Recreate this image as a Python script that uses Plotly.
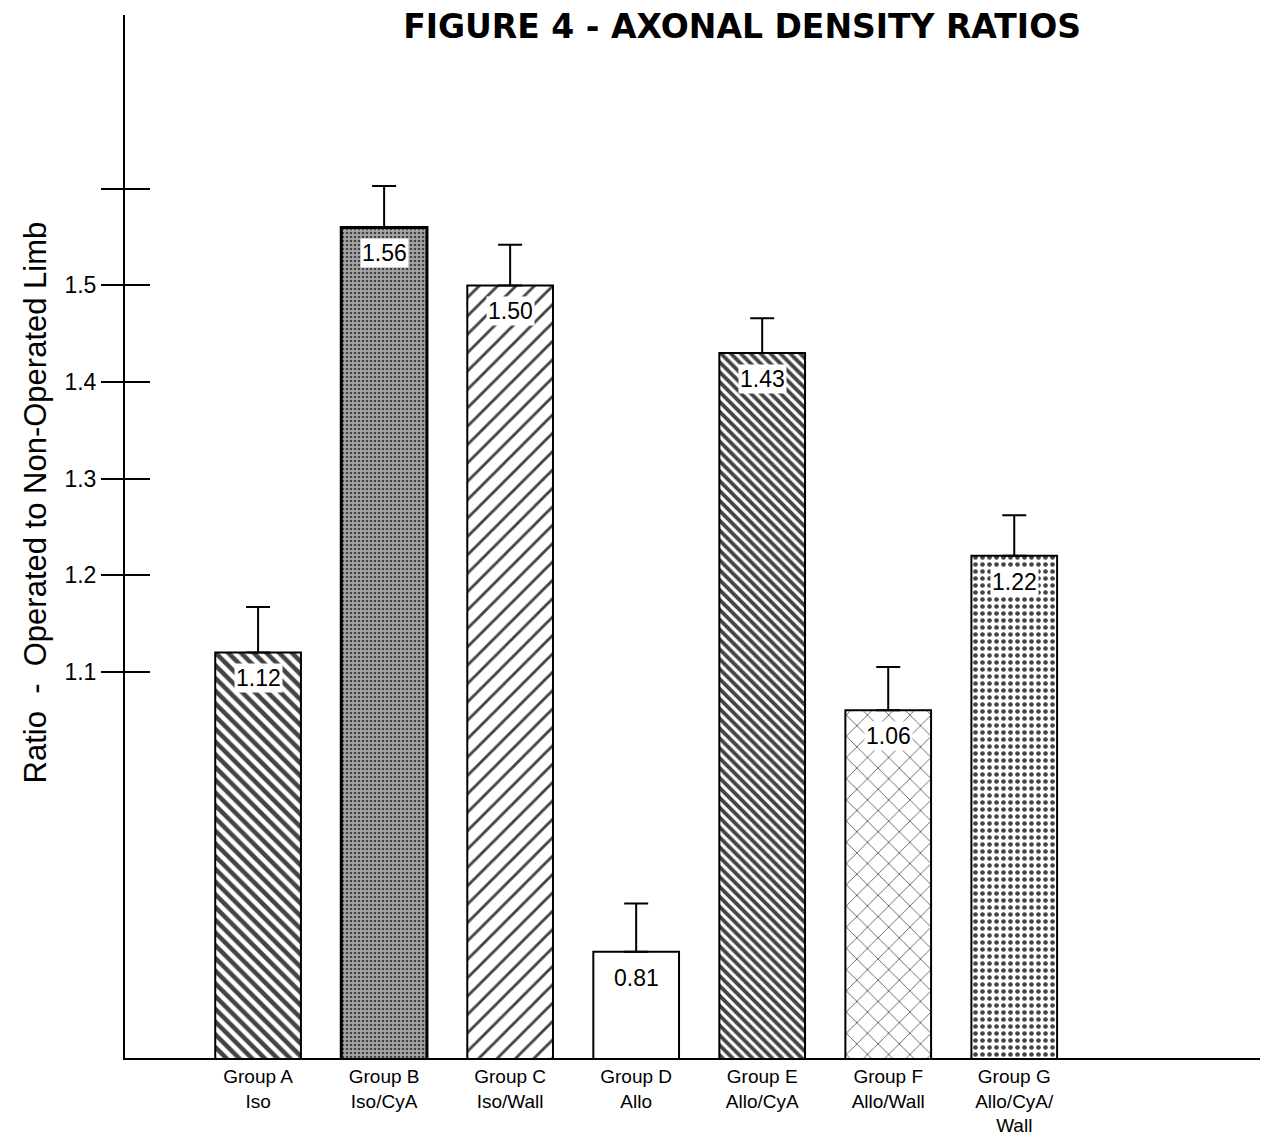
import plotly.graph_objects as go

# Group labels (two or three lines under each bar)
groups = [
    "Group A<br>Iso",
    "Group B<br>Iso/CyA",
    "Group C<br>Iso/Wall",
    "Group D<br>Allo",
    "Group E<br>Allo/CyA",
    "Group F<br>Allo/Wall",
    "Group G<br>Allo/CyA/<br>Wall",
]
# Mean axonal density ratio, operated / non-operated limb
ratios = [1.12, 1.56, 1.50, 0.81, 1.43, 1.06, 1.22]
# Upper error (one-sided)
errors = [0.047, 0.043, 0.042, 0.050, 0.036, 0.045, 0.042]

# Y axis ticks (top tick left unlabelled)
tick_vals = [1.1, 1.2, 1.3, 1.4, 1.5, 1.6]
tick_text = ["1.1", "1.2", "1.3", "1.4", "1.5", ""]

# Fill styles per bar
fill_colors = ["white", "#a6a6a6", "white", "white", "white", "white", "white"]
pattern_shapes = ["\\", ".", "/", "", "\\", "x", "."]
pattern_sizes = [9, 4, 13, 8, 7, 15, 7]
pattern_solidity = [0.5, 0.35, 0.22, 0.2, 0.55, 0.1, 0.35]
outline_widths = [2, 3, 2, 2, 2, 2, 2]

FONT = "Liberation Sans, Arial, Helvetica, sans-serif"
TITLE_FONT = "DejaVu Sans, Liberation Sans, Arial, sans-serif"

fig = go.Figure()

fig.add_trace(go.Bar(
    x=groups,
    y=ratios,
    width=0.68,
    marker=dict(
        color=fill_colors,
        line=dict(color="black", width=outline_widths),
        pattern=dict(
            shape=pattern_shapes,
            size=pattern_sizes,
            solidity=pattern_solidity,
            fgcolor="black",
            fgopacity=1,
            fillmode="overlay",
        ),
    ),
    error_y=dict(
        type="data",
        symmetric=False,
        array=errors,
        arrayminus=[0] * len(errors),
        color="black",
        thickness=2,
        width=12,
    ),
    showlegend=False,
    hoverinfo="skip",
))

# Invisible trace on the overlaid axis so its ticks render on the inside
fig.add_trace(go.Scatter(
    x=groups, y=ratios, yaxis="y2", mode="markers",
    marker=dict(opacity=0), showlegend=False, hoverinfo="skip",
))

# Value boxes just under each bar top
for g, r in zip(groups, ratios):
    fig.add_annotation(
        x=g, y=r, xref="x", yref="y",
        text=f"{r:.2f}",
        showarrow=False,
        yanchor="middle",
        yshift=-26,
        bgcolor="white",
        borderpad=1,
        font=dict(family=FONT, size=23, color="black"),
    )

# Rotated y-axis title
fig.add_annotation(
    x=-0.079, y=0.533, xref="paper", yref="paper",
    text="Ratio  -  Operated to Non-Operated Limb",
    textangle=-90,
    showarrow=False,
    xanchor="center", yanchor="middle",
    font=dict(family=FONT, size=31, color="black"),
)

y_range = [0.70, 1.78]

fig.update_layout(
    width=1275,
    height=1137,
    margin=dict(l=125, r=15, t=15, b=79, autoexpand=False),
    plot_bgcolor="white",
    paper_bgcolor="white",
    font=dict(family=FONT, color="black"),
    title=dict(
        text="<b>FIGURE 4 - AXONAL DENSITY RATIOS</b>",
        x=0.582,
        xanchor="center",
        y=0.977,
        yanchor="middle",
        font=dict(family=TITLE_FONT, size=33, color="black"),
    ),
    xaxis=dict(
        range=[-1.056, 7.95],
        showline=True,
        linecolor="black",
        linewidth=2,
        ticks="",
        ticklabelstandoff=0,
        showgrid=False,
        zeroline=False,
        automargin=False,
        tickfont=dict(family=FONT, size=19, color="black"),
    ),
    yaxis=dict(
        range=y_range,
        showline=True,
        linecolor="black",
        linewidth=2,
        ticks="outside",
        ticklen=22,
        tickwidth=2,
        tickcolor="black",
        tickvals=tick_vals,
        ticktext=tick_text,
        showgrid=False,
        zeroline=False,
        automargin=False,
        tickfont=dict(family=FONT, size=23, color="black"),
    ),
    yaxis2=dict(
        range=y_range,
        overlaying="y",
        side="left",
        anchor="x",
        ticks="inside",
        ticklen=25,
        tickwidth=2,
        tickcolor="black",
        tickvals=tick_vals,
        showticklabels=False,
        showgrid=False,
        zeroline=False,
        showline=False,
        automargin=False,
    ),
)

fig.write_html("out.html")
